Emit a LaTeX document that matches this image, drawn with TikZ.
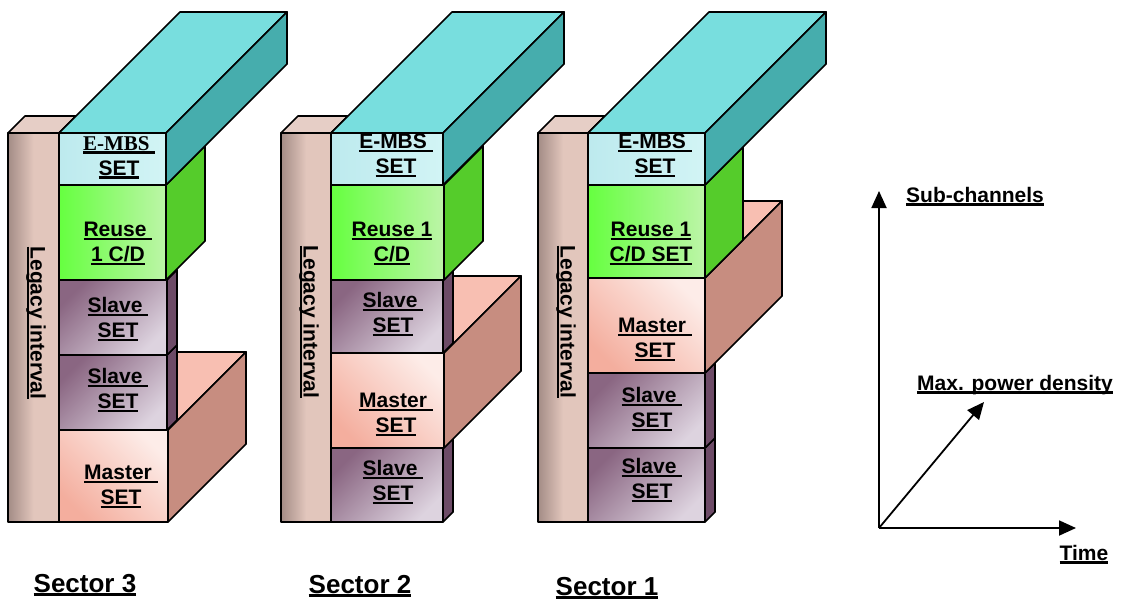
\documentclass[tikz,border=0pt]{standalone}
\usepackage{fontspec}
\setmainfont{Liberation Sans}
\newfontfamily\timesfont{Liberation Serif}
\usetikzlibrary{arrows.meta}

\definecolor{legD}{HTML}{A38C86}
\definecolor{legL}{HTML}{E2C6BC}
\definecolor{legT}{HTML}{E6CEC6}
\definecolor{legS}{HTML}{C8AAA0}
\definecolor{cyT}{HTML}{78DEDE}
\definecolor{cyS}{HTML}{46ADAD}
\definecolor{cyF}{HTML}{BDEAEE}
\definecolor{cyG}{HTML}{D2F4F5}
\definecolor{grD}{HTML}{66FF40}
\definecolor{grL}{HTML}{CCFFBB}
\definecolor{grR}{HTML}{BDF5A8}
\definecolor{grS}{HTML}{55CC2B}
\definecolor{slD}{HTML}{8A6682}
\definecolor{slL}{HTML}{DDD3DF}
\definecolor{slS}{HTML}{6D4B67}
\definecolor{maD}{HTML}{F4AE9E}
\definecolor{maL}{HTML}{FDECE8}
\definecolor{maT}{HTML}{F8BFB2}
\definecolor{maS}{HTML}{C78D80}

% underline with a thick bar
\newcommand{\uln}[1]{\setbox0=\hbox{#1}\leavevmode\rlap{\rule[-3.6pt]{\wd0}{2.4pt}}\box0}

% block: x0 y0 x1 y1 depth kind
\newcommand{\slab}[6]{%
  \path[#6 top] (#1,#2) -- (#1+#5,#2-#5) -- (#3+#5,#2-#5) -- (#3,#2) -- cycle;
  \path[#6 side] (#3,#2) -- (#3+#5,#2-#5) -- (#3+#5,#4-#5) -- (#3,#4) -- cycle;
  \path[#6 front] (#1,#2) rectangle (#3,#4);
}

\tikzset{
  box/.style={draw=black, line width=1.7pt, line join=round},
  legacy front/.style={box, left color=legD, right color=legL, middle color=legL},
  legacy top/.style={box, fill=legT},
  legacy side/.style={box, fill=legS},
  embs front/.style={box, left color=cyF, right color=cyG},
  embs top/.style={box, fill=cyT},
  embs side/.style={box, fill=cyS},
  reuse front/.style={box, left color=grD, middle color=grL, right color=grR},
  reuse top/.style={box, fill=grS},
  reuse side/.style={box, fill=grS},
  slave front/.style={box, top color=slD, bottom color=slL, shading angle=45},
  slave top/.style={box, fill=slS},
  slave side/.style={box, fill=slS},
  master front/.style={box, top color=maL, bottom color=maD, shading angle=-45},
  master top/.style={box, fill=maT},
  master side/.style={box, fill=maS},
  lbl/.style={inner sep=0pt, anchor=north, align=center,
    font=\fontsize{21}{25}\selectfont\bfseries},
  txt/.style={inner sep=0pt, anchor=base, font=\fontsize{21}{25}\selectfont\bfseries},
  sect/.style={inner sep=0pt, anchor=base, font=\fontsize{26}{30}\selectfont\bfseries},
  axis/.style={line width=1.8pt, -{Triangle[length=17pt,width=15pt]}}
}

\begin{document}
\begin{tikzpicture}[x=1pt,y=-1pt]
  \useasboundingbox (0,0) rectangle (1121,603);

  % Sector 3
  \slab{8}{133}{59}{522}{17}{legacy}
  \slab{59}{430}{168}{522}{78}{master}
  \slab{59}{355}{167}{430}{10}{slave}
  \slab{59}{280}{167}{355}{10}{slave}
  \slab{59}{185}{166}{280}{39}{reuse}
  \slab{59}{133}{166}{185}{121}{embs}
  \node[txt, rotate=-90, anchor=center] (leg3) at (36,323) {\uln{Legacy interval}};
  \node[lbl] (embs3) at (119,136) {{\timesfont\uln{E-MBS\ }}\\\uln{SET}};
  \node[lbl] (reuse3) at (118,222) {\uln{Reuse\ }\\\uln{1 C/D}};
  \node[lbl] (slvA3) at (118,297) {\uln{Slave\ }\\\uln{SET}};
  \node[lbl] (slvB3) at (118,368) {\uln{Slave\ }\\\uln{SET}};
  \node[lbl] (mst3) at (121,465) {\uln{Master\ }\\\uln{SET}};
  \node[sect] (sec3) at (85,592) {\uln{Sector 3}};

  % Sector 2
  \slab{281}{133}{331}{522}{17}{legacy}
  \slab{331}{448}{443}{522}{10}{slave}
  \slab{331}{353}{444}{448}{77}{master}
  \slab{331}{280}{443}{353}{10}{slave}
  \slab{331}{185}{444}{280}{39}{reuse}
  \slab{331}{133}{443}{185}{121}{embs}
  \node[txt, rotate=-90, anchor=center] (leg2) at (309,322) {\uln{Legacy interval}};
  \node[lbl] (embs2) at (396,134) {\uln{E-MBS\ }\\\uln{SET}};
  \node[lbl] (reuse2) at (392,222) {\uln{Reuse 1}\\\uln{C/D}};
  \node[lbl] (slvA2) at (393,292) {\uln{Slave\ }\\\uln{SET}};
  \node[lbl] (mst2) at (396,393) {\uln{Master\ }\\\uln{SET}};
  \node[lbl] (slvB2) at (393,460) {\uln{Slave\ }\\\uln{SET}};
  \node[sect] (sec2) at (360,593) {\uln{Sector 2}};

  % Sector 1
  \slab{538}{133}{588}{522}{17}{legacy}
  \slab{588}{448}{705}{522}{10}{slave}
  \slab{588}{373}{705}{448}{10}{slave}
  \slab{588}{278}{705}{373}{77}{master}
  \slab{588}{185}{705}{278}{38}{reuse}
  \slab{588}{133}{705}{185}{121}{embs}
  \node[txt, rotate=-90, anchor=center] (leg1) at (566,322) {\uln{Legacy interval}};
  \node[lbl] (embs1) at (655,134) {\uln{E-MBS\ }\\\uln{SET}};
  \node[lbl] (reuse1) at (651,222) {\uln{Reuse 1}\\\uln{C/D SET}};
  \node[lbl] (mst1) at (655,318) {\uln{Master\ }\\\uln{SET}};
  \node[lbl] (slvA1) at (652,387) {\uln{Slave\ }\\\uln{SET}};
  \node[lbl] (slvB1) at (652,458) {\uln{Slave\ }\\\uln{SET}};
  \node[sect] (sec1) at (607,595) {\uln{Sector 1}};

  % axes
  \coordinate (org) at (879,528);
  \coordinate (up) at (879,191);
  \coordinate (rt) at (1076,528);
  \coordinate (dg) at (984,402);
  \draw[axis] (org) -- (up);
  \draw[axis] (org) -- (rt);
  \draw[axis] (org) -- (dg);
  \node[txt] (subch) at (975,202) {\uln{Sub-channels}};
  \node[txt] (maxpd) at (1015,390) {\uln{Max. power density}};
  \node[txt] (time) at (1084,560) {\uln{Time}};
\end{tikzpicture}
\end{document}
